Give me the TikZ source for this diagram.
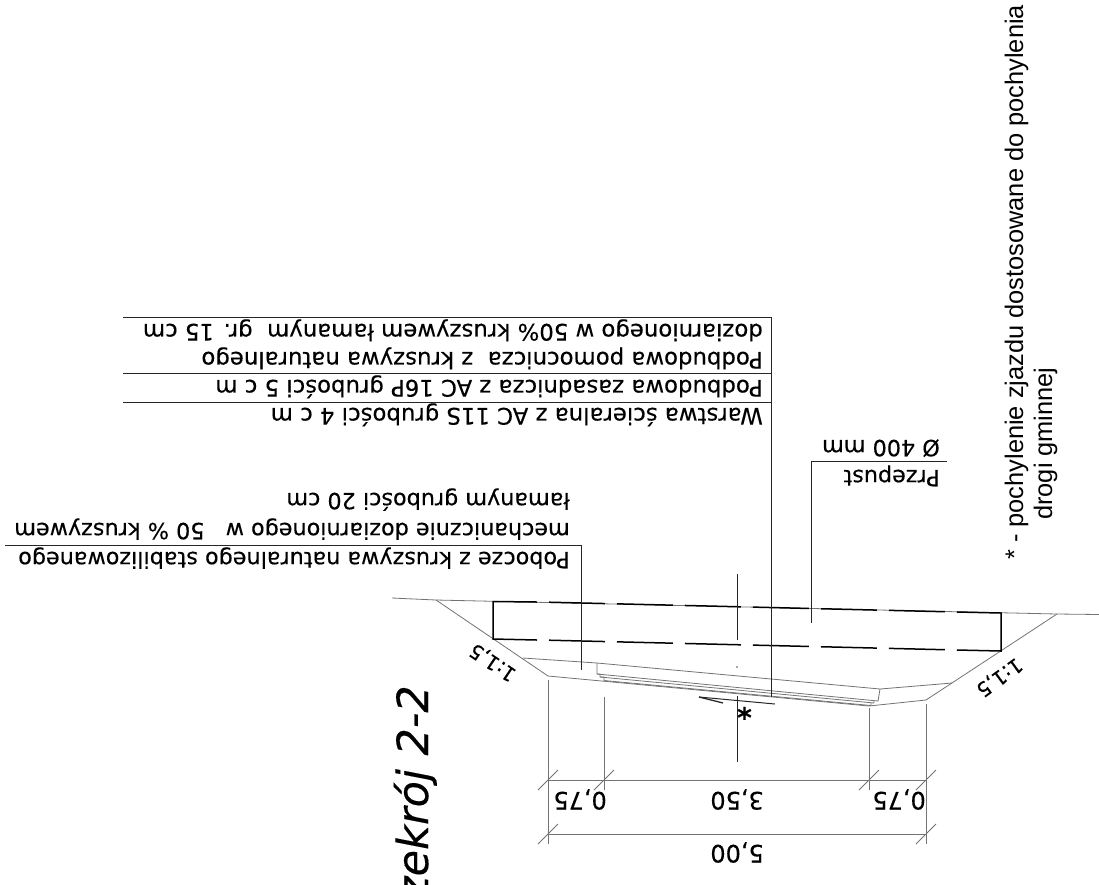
\documentclass[tikz,border=0pt]{standalone}
\usepackage{fontspec}
\setmainfont[FakeBold=.25]{DejaVu Sans}
\newfontfamily\notefont{Liberation Sans}
\begin{document}
\begin{tikzpicture}[x=1pt,y=-1pt,
	thinline/.style={draw=black!55,line width=.8pt},
	leader/.style={draw=black!85,line width=1pt},
	culvert/.style={draw=black,line width=1.5pt},
	flip/.style={rotate=180,anchor=base west,inner sep=0pt,font=\fontsize{22.8}{23}\selectfont},
	fliplow/.style={flip,font=\fontsize{22.3}{23}\selectfont},
	dimtext/.style={rotate=180,anchor=base west,inner sep=0pt,font=\fontsize{24}{24}\selectfont},
	slopetext/.style={inner sep=0pt,font=\fontsize{20}{20}\selectfont},
	notetext/.style={rotate=90,anchor=base west,inner sep=0pt,font=\notefont\fontsize{25.4}{26}\selectfont}]
	\useasboundingbox (0,0) rectangle (1099,884);
	\coordinate (gl) at (392,598);
	\coordinate (sl) at (436,600); %top of left slope
	\coordinate (sr) at (1057,614); %top of right slope
	\coordinate (gr) at (1099,614.5);
	\coordinate (bl) at (548,676); %foot of left slope
	\coordinate (br) at (926,700); %foot of right slope
	\coordinate (bm) at (869,706);
	\coordinate (rl) at (597,663); %road surface
	\coordinate (rr) at (880,689);
	% Ground and slopes
	\draw[thinline] (gl)--(sl)--(sr)--(gr);
	\draw[thinline] (sl)--(bl)--(bm)--(br)--(sr);
	% Shoulders and road layers
	\draw[thinline] (523,658)--(rl)--(rr)--(952,683);
	\draw[thinline] (rl)--(597,674)--(878,701)--(rr);
	\draw[thinline] (597,674)--(600,674)--(600,677)--(874,703)--(874,701);
	\draw[thinline] (600,677)--(604,677)--(604,680.5)--(871,705.5)--(871,703);
	% Culvert
	\draw[culvert] (537,602)--(493,601.5)--(493,639)--(537,640);
	\draw[culvert,dash pattern=on 56pt off 12pt] (549,602.2)--(957,612);
	\draw[culvert,dash pattern=on 56pt off 12pt] (549,640.2)--(957,650);
	\draw[culvert] (957,612)--(1001,613)--(1001,651)--(957,650);
	% Axis
	\draw[leader] (737,574)--(737,640);
	\fill[black!70] (737,667) circle (.8);
	\draw[leader] (737,696)--(737,762);
	% Leaders
	\draw[leader] (811,623)--(811,461)--(947,461);
	\draw[leader] (771,697)--(771,317)--(123,317);
	\draw[leader] (771,373)--(123,373);
	\draw[leader] (771,402)--(123,402);
	\draw[leader] (581,670)--(581,545)--(5,545);
	% Crossfall mark
	\draw[leader] (699,697)--(775,704);
	\draw[leader,line width=1.3pt] (699,697)--(723,703);
	\node[dimtext,font=\fontsize{28}{28}\selectfont\bfseries] (star) at (752,699) {*};
	% Dimensions
	\draw[thinline] (548,680)--(548,844);
	\draw[thinline] (926,704)--(926,844);
	\draw[thinline] (604,697)--(604,790);
	\draw[thinline] (869,708)--(869,790);
	\draw[thinline] (548,780)--(926,780);
	\draw[thinline] (548,834)--(926,834);
	\foreach \px/\py in {548/780,604/780,869/780,926/780,548/834,926/834}
		\draw[thinline] (\px-10,\py+10)--(\px+10,\py-10);
	\node[dimtext] (d1) at (607,792) {0,75};
	\node[dimtext] (d2) at (764,792) {3,50};
	\node[dimtext] (d3) at (926,792) {0,75};
	\node[dimtext] (d4) at (764,845) {5,00};
	\node[slopetext,rotate=146] (s1) at (493,662) {1:1,5};
	\node[slopetext,rotate=216] (s2) at (999,677) {1:1,5};
	% Labels
	\node[flip] (warstwa) at (763,408) {Warstwa ścieralna z AC 11S grubości 4 c m};
	\node[flip] (zasadnicza) at (763,380) {Podbudowa zasadnicza z AC 16P grubości 5 c m};
	\node[flip] (pomocnicza) at (763,352) {Podbudowa pomocnicza\ \ z kruszywa naturalnego};
	\node[flip] (dozi) at (763,324) {doziarnionego w 50\% kruszywem łamanym\ \ gr. 15 cm};
	\node[fliplow] (pobocze) at (570,552) {Pobocze z kruszywa naturalnego stabilizowanego};
	\node[fliplow] (mech) at (570,523) {mechanicznie doziarnionego w \ \ 50 \% kruszywem};
	\node[fliplow] (lam) at (570,493) {łamanym grubości 20 cm};
	\node[fliplow] (przepust) at (940,470) {Przepust};
	\node[fliplow] (fi) at (940,440) {Ø 400 mm};
	% Note
	\node[notetext] (note1) at (1023,560) {* - pochylenie zjazdu dostosowane do pochylenia};
	\node[notetext] (note2) at (1052,520) {drogi gminnej};
	\node[rotate=90,anchor=base east,inner sep=0pt,font=\itshape\fontsize{43}{43}\selectfont] (title) at (428,685) {Przekrój 2-2};
\end{tikzpicture}
\end{document}
